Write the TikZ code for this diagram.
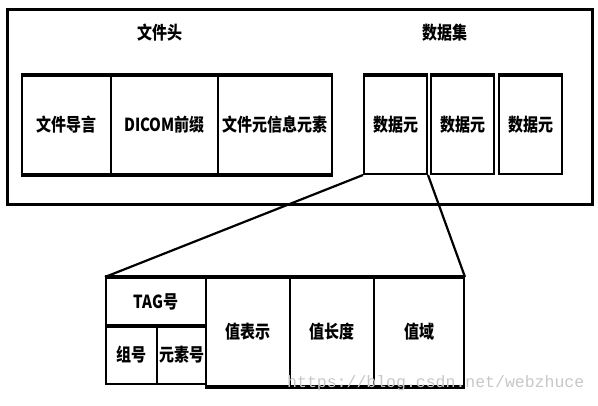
\documentclass[tikz,border=0pt]{standalone}
\usepackage{graphicx}
\usepackage{fontspec}
\setmainfont{Noto Sans CJK SC}
\newfontfamily\wmfont{Liberation Mono}
\newcommand{\tallt}[1]{\scalebox{1}[1.2]{#1}}
\begin{document}
\begin{tikzpicture}[x=1pt,y=-1pt,
  cell/.style={draw,line width=2pt,anchor=north west,inner sep=0pt,font=\fontsize{15}{17}\selectfont\bfseries},
  lbl/.style={font=\fontsize{15}{17}\selectfont\bfseries,inner sep=0pt},
  edge/.style={line width=3.2pt},
  link/.style={line width=2.2pt}]
\useasboundingbox (0,0) rectangle (598,405);
\node[draw,line width=3pt,anchor=north west,inner sep=0pt,minimum width=585pt,minimum height=195pt] (outer) at (6,8) {};
\node[lbl] (hdr) at (160,33) {\tallt{文件头}};
\node[lbl] (ds) at (445,33) {\tallt{数据集}};
% header cells
\node[cell,minimum width=89pt,minimum height=98pt] (h1) at (21,75) {\tallt{文件导言}};
\node[cell,minimum width=107pt,minimum height=98pt] (h2) at (110,75) {\tallt{DICOM前缀}};
\node[cell,minimum width=114pt,minimum height=98pt] (h3) at (217,75) {\tallt{文件元信息元素}};
\draw[edge] (h1.north west) -- (h3.north east);
\draw[edge] (h1.south west) -- (h3.south east);
% data elements
\node[cell,minimum width=63pt,minimum height=98pt] (d1) at (363,75) {\tallt{数据元}};
\node[cell,minimum width=63pt,minimum height=98pt] (d2) at (430,75) {\tallt{数据元}};
\node[cell,minimum width=63pt,minimum height=98pt] (d3) at (498,75) {\tallt{数据元}};
\draw[edge] (d1.north west) -- (d1.north east);
\draw[edge] (d2.north west) -- (d2.north east);
\draw[edge] (d3.north west) -- (d3.north east);
% lower structure
\node[cell,minimum width=100pt,minimum height=47pt] (tag) at (105,277) {\tallt{TAG号}};
\node[cell,minimum width=51pt,minimum height=59pt] (grp) at (105,324) {\tallt{组号}};
\node[cell,minimum width=49pt,minimum height=59pt] (elm) at (156,324) {\tallt{元素号}};
\node[cell,minimum width=84pt,minimum height=108pt] (vr) at (205,277) {\tallt{值表示}};
\node[cell,minimum width=84pt,minimum height=108pt] (vl) at (289,277) {\tallt{值长度}};
\node[cell,minimum width=90pt,minimum height=108pt] (vf) at (373,277) {\tallt{值域}};
\draw[edge] (tag.north west) -- (vf.north east);
\draw[edge] (tag.south west) -- (tag.south east);
\draw[edge] (vr.south west) -- (vf.south east);
% connectors
\draw[link] (d1.south west) -- (tag.north west);
\draw[link] (d1.south east) -- (vf.north east);
% watermark
\node[anchor=west,inner sep=0pt,text=black!22,font=\wmfont\fontsize{16.5}{18}\selectfont] (wm) at (287,383) {https://blog.csdn.net/webzhuce};
\end{tikzpicture}
\end{document}
